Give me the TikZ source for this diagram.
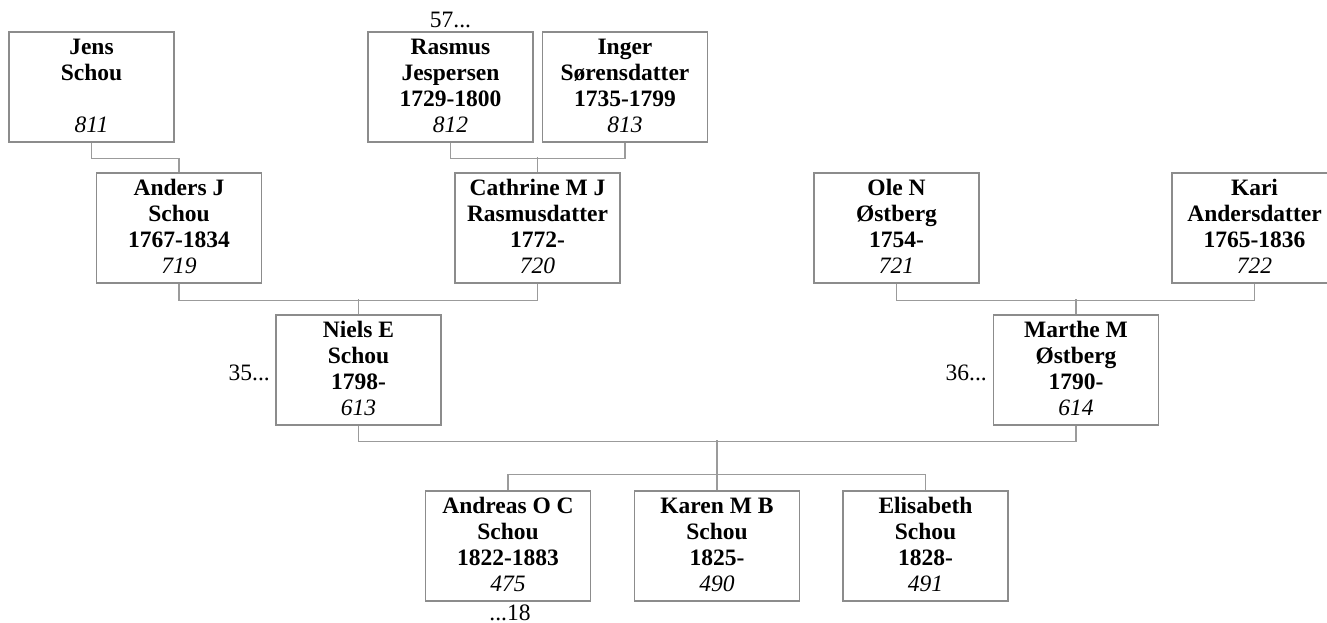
\documentclass[tikz,border=0pt]{standalone}
\usepackage{fontspec}
\setmainfont{Liberation Serif}
\definecolor{boxgray}{RGB}{140,140,140}
\definecolor{linegray}{RGB}{155,155,155}
\newcommand{\mystrut}{\vrule width 0pt height 19.5pt depth 6.5pt}
\newcommand{\personlines}[4]{\mystrut #1\\\mystrut #2\\\mystrut #3\\\mystrut{\mdseries\itshape #4}}
\begin{document}
\begin{tikzpicture}[x=1pt,y=-1pt,
  person/.style={draw=boxgray, line width=1.1pt, fill=white, minimum width=165pt,
    minimum height=110pt, inner sep=0pt, align=center,
    font=\fontsize{23.5}{26}\selectfont\bfseries},
  link/.style={draw=linegray, line width=1.1pt},
  note/.style={font=\fontsize{23.5}{26}\selectfont, inner sep=0pt}]
\useasboundingbox (0,0) rectangle (1327,623);

% generation 1
\node[person] (n811) at (91.5,87)  {\personlines{Jens}{Schou}{}{811}};
\node[person] (n812) at (450.5,87) {\personlines{Rasmus}{Jespersen}{1729-1800}{812}};
\node[person] (n813) at (625,87)   {\personlines{Inger}{Sørensdatter}{1735-1799}{813}};

% generation 2
\node[person] (n719) at (179,228)    {\personlines{Anders J}{Schou}{1767-1834}{719}};
\node[person] (n720) at (537.5,228)  {\personlines{Cathrine M J}{Rasmusdatter}{1772-}{720}};
\node[person] (n721) at (896.5,228)  {\personlines{Ole N}{Østberg}{1754-}{721}};
\node[person] (n722) at (1254.5,228) {\personlines{Kari}{Andersdatter}{1765-1836}{722}};

% generation 3
\node[person] (n613) at (358.5,370) {\personlines{Niels E}{Schou}{1798-}{613}};
\node[person] (n614) at (1076,370)  {\personlines{Marthe M}{Østberg}{1790-}{614}};

% generation 4
\node[person] (n475) at (508,546)   {\personlines{Andreas O C}{Schou}{1822-1883}{475}};
\node[person] (n490) at (717,546)   {\personlines{Karen M B}{Schou}{1825-}{490}};
\node[person] (n491) at (925.5,546) {\personlines{Elisabeth}{Schou}{1828-}{491}};

% side labels
\node[note, anchor=base] (l57) at (450.5,28) {57...};
\node[note, anchor=base east] (l35) at (270,380) {35...};
\node[note, anchor=base east] (l36) at (987,380.5) {36...};
\node[note, anchor=base] (l18) at (510,620) {...18};

% connectors
\draw[link] (n811.south) -- ++(0,16) -| (n719.north);
\draw[link] (n812.south) -- ++(0,16) -| (n813.south);
\draw[link] (n720.north) -- ++(0,-15);
\draw[link] (n719.south) -- ++(0,17) -| (n720.south);
\draw[link] (n613.north) -- ++(0,-15);
\draw[link] (n721.south) -- ++(0,17) -| (n722.south);
\draw[link] (n614.north) -- ++(0,-15);
\draw[link] (n613.south) -- ++(0,16) -| (n614.south);
\draw[link] (n490.north) -- ++(0,-50);
\draw[link] (n475.north) -- ++(0,-16) -| (n491.north);
\end{tikzpicture}
\end{document}
